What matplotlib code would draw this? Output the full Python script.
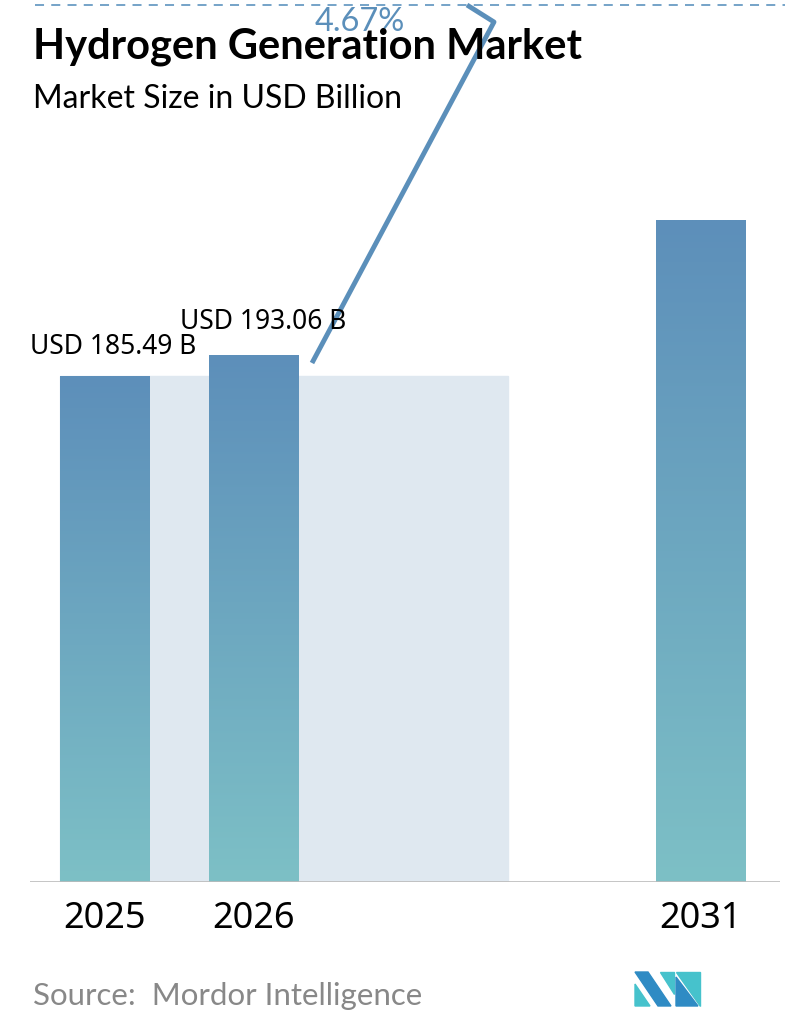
import matplotlib
matplotlib.use("Agg")
import matplotlib.pyplot as plt
import numpy as np
from matplotlib.patches import Rectangle
from matplotlib.colors import LinearSegmentedColormap

years = ["2025", "2026", "2031"]
values = [185.49, 193.06, 242.6]
labels = ["USD 185.49 B", "USD 193.06 B", ""]
cagr = "4.67%"
positions = [0, 1, 4]

W, H = 796, 1034
fig = plt.figure(figsize=(W/100, H/100), dpi=100)
ax = fig.add_axes([30/W, (H-882)/H, 750/W, 877/H])
ax.set_xlim(-0.5, 4.533)
ax.set_ylim(0, 321.5)
ax.axis("off")
bw = 89/149

ax.add_patch(Rectangle((-0.298, 0), 3.006, values[0], color="#dfe8f0", zorder=1))
cmap = LinearSegmentedColormap.from_list("g", ["#7dc0c6", "#5d8fba"])
grad = np.linspace(0, 1, 256).reshape(-1, 1)
for p, v in zip(positions, values):
    r = Rectangle((p-bw/2, 0), bw, v, facecolor="none", edgecolor="none", zorder=2)
    ax.add_patch(r)
    im = ax.imshow(grad, cmap=cmap, origin="lower", aspect="auto",
                   extent=(p-bw/2, p+bw/2, 0, v), zorder=2)
    im.set_clip_path(r)
ax.axhline(0, color="#bbbbbb", lw=1.2, xmin=0, xmax=1, zorder=3)

def px(x, y):
    return x/W, 1 - y/H

fig.text(*px(30, 347), labels[0], ha="left", va="center", fontsize=19, fontfamily="Noto Sans", zorder=5)
fig.text(*px(180, 322), labels[1], ha="left", va="center", fontsize=19, fontfamily="Noto Sans", zorder=5)
for p, y in zip(positions, years):
    ax.text(p, -7, y, ha="center", va="top", fontsize=26, fontfamily="Noto Sans")

fig.add_artist(plt.Line2D([px(35,5)[0], px(785,5)[0]], [px(0,5)[1]]*2, ls=(0,(5,4)), color="#6a9cc4", lw=1.3))
xs = [312, 494, 467]; ys = [363, 22, 5]
fig.add_artist(plt.Line2D([x/W for x in xs], [1-y/H for y in ys], color="#5b8fba", lw=3.5, solid_capstyle="butt"))
fig.text(*px(360, 22), cagr, ha="center", va="center", fontsize=23.5, color="#5b8fba", fontfamily="Lato")

fig.text(*px(33, 47), "Hydrogen Generation Market", ha="left", va="center", fontsize=30, fontweight="bold", fontfamily="Lato")
fig.text(*px(33, 99), "Market Size in USD Billion", ha="left", va="center", fontsize=23, fontfamily="Lato")
fig.text(*px(33, 996), "Source:  Mordor Intelligence", ha="left", va="center", fontsize=22.5, color="#888888", fontfamily="Lato")

lx, ly = 635, 972
def poly(pts, c):
    fig.add_artist(plt.Polygon([px(x, y) for x, y in pts], closed=True, color=c, transform=fig.transFigure))
poly([(lx, ly), (lx+13, ly), (lx+36, ly+34), (lx+23, ly+34)], "#2f8bc4")
poly([(lx, ly+12), (lx+15, ly+34), (lx, ly+34)], "#46c2cc")
poly([(lx+25, ly), (lx+39, ly), (lx+39, ly+22)], "#46c2cc")
poly([(lx+41, ly), (lx+65, ly), (lx+65, ly+34)], "#46c2cc")
poly([(lx+41, ly+5), (lx+63, ly+34), (lx+41, ly+34)], "#2f8bc4")

fig.savefig("out.png", dpi=100, facecolor="white")
